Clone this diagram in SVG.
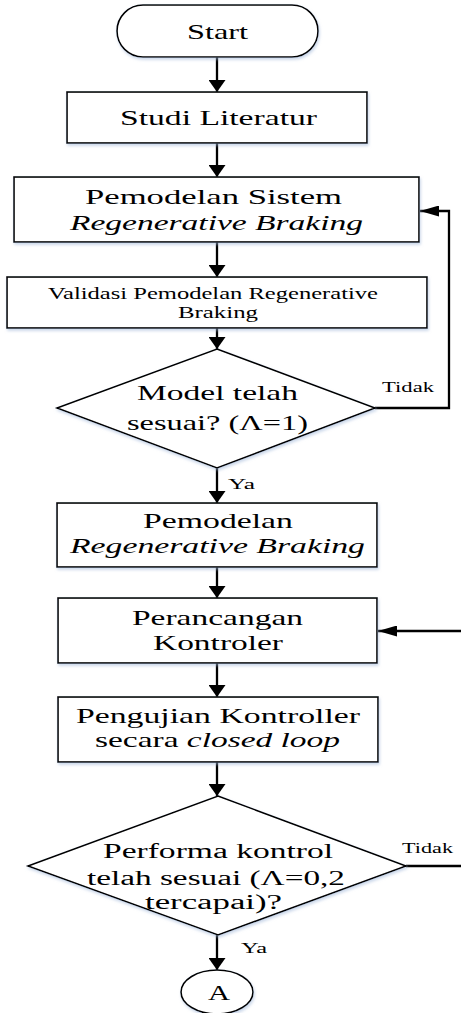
<svg xmlns="http://www.w3.org/2000/svg" width="461" height="1013" viewBox="0 0 461 1013">
<style>
text{font-family:"Liberation Serif","Times New Roman",serif;fill:#000;}
.t{font-size:22px;}
.d{font-size:20px;}
.s{font-size:17px;}
.l{font-size:15px;}
.i{font-style:italic;}
.shape{fill:#fff;stroke:#000;stroke-width:1.6;filter:url(#sh);}
.con{fill:none;stroke:#000;stroke-width:2.3;}
</style>
<defs>
<filter id="sh" x="-10%" y="-10%" width="120%" height="130%">
<feDropShadow dx="1" dy="2" stdDeviation="1.5" flood-color="#9fb6d8" flood-opacity="0.55"/>
</filter>
<marker id="aV" viewBox="0 0 12 17" refX="12" refY="8.5" markerWidth="12" markerHeight="17" markerUnits="userSpaceOnUse" orient="auto">
<path d="M0,0 L12,8.5 L0,17 z" fill="#000"/>
</marker>
<marker id="aH" viewBox="0 0 19 11" refX="19" refY="5.5" markerWidth="19" markerHeight="11" markerUnits="userSpaceOnUse" orient="auto">
<path d="M0,0 L19,5.5 L0,11 z" fill="#000"/>
</marker>
</defs>

<g id="connectors">
<path class="con" d="M217,57 V92" marker-end="url(#aV)"/>
<path class="con" d="M217,143 V177" marker-end="url(#aV)"/>
<path class="con" d="M217,242 V277" marker-end="url(#aV)"/>
<path class="con" d="M217,328 V349" marker-end="url(#aV)"/>
<path class="con" d="M217,468 V503" marker-end="url(#aV)"/>
<path class="con" d="M375,408 H449 V211 H420" marker-end="url(#aH)"/>
<path class="con" d="M217,567 V598" marker-end="url(#aV)"/>
<path class="con" d="M217,663 V697" marker-end="url(#aV)"/>
<path class="con" d="M217,762 V796" marker-end="url(#aV)"/>
<path class="con" d="M406,866 H461"/>
<path class="con" d="M461,631 H378" marker-end="url(#aH)"/>
<path class="con" d="M217,935 V970" marker-end="url(#aV)"/>
<text class="l" x="382" y="392" textLength="52" lengthAdjust="spacingAndGlyphs">Tidak</text>
<text class="l" x="228" y="489" textLength="27" lengthAdjust="spacingAndGlyphs">Ya</text>
<text class="l" x="402" y="853" textLength="51" lengthAdjust="spacingAndGlyphs">Tidak</text>
<text class="l" x="241" y="953" textLength="26" lengthAdjust="spacingAndGlyphs">Ya</text>
</g>

<g id="start">
<rect class="shape" x="117" y="5" width="201" height="52" rx="26" ry="26"/>
<text class="t" x="187" y="39" textLength="61" lengthAdjust="spacingAndGlyphs">Start</text>
</g>

<g id="studi">
<rect class="shape" x="67" y="92" width="300" height="51"/>
<text class="t" x="120" y="125" textLength="197" lengthAdjust="spacingAndGlyphs">Studi Literatur</text>
</g>

<g id="pemodelan-sistem">
<rect class="shape" x="14" y="177" width="405" height="65"/>
<text class="t" x="85" y="204" textLength="257" lengthAdjust="spacingAndGlyphs">Pemodelan Sistem</text>
<text class="t i" x="70" y="230" textLength="293" lengthAdjust="spacingAndGlyphs">Regenerative Braking</text>
</g>

<g id="validasi">
<rect class="shape" x="7" y="277" width="420" height="51"/>
<text class="s" x="48" y="299" textLength="330" lengthAdjust="spacingAndGlyphs">Validasi Pemodelan Regenerative</text>
<text class="s" x="178" y="318" textLength="80" lengthAdjust="spacingAndGlyphs">Braking</text>
</g>

<g id="decision-model">
<polygon class="shape" points="217,349 375,408 217,468 57,408"/>
<text class="t" x="137" y="400" textLength="161" lengthAdjust="spacingAndGlyphs">Model telah</text>
<text class="t" x="127" y="430" textLength="181" lengthAdjust="spacingAndGlyphs">sesuai? (Λ=1)</text>
</g>

<g id="pemodelan">
<rect class="shape" x="57" y="503" width="320" height="64"/>
<text class="t" x="143" y="528" textLength="150" lengthAdjust="spacingAndGlyphs">Pemodelan</text>
<text class="t i" x="70" y="553" textLength="295" lengthAdjust="spacingAndGlyphs">Regenerative Braking</text>
</g>

<g id="perancangan">
<rect class="shape" x="58" y="598" width="319" height="65"/>
<text class="t" x="132" y="625" textLength="171" lengthAdjust="spacingAndGlyphs">Perancangan</text>
<text class="t" x="153" y="650" textLength="130" lengthAdjust="spacingAndGlyphs">Kontroler</text>
</g>

<g id="pengujian">
<rect class="shape" x="58" y="697" width="320" height="65"/>
<text class="t" x="76" y="723" textLength="284" lengthAdjust="spacingAndGlyphs">Pengujian Kontroller</text>
<text class="t" x="95" y="747" textLength="245" lengthAdjust="spacingAndGlyphs">secara <tspan class="i">closed loop</tspan></text>
</g>

<g id="decision-performa">
<polygon class="shape" points="218,796 406,866 218,935 28,866"/>
<text class="d" x="103" y="858" textLength="230" lengthAdjust="spacingAndGlyphs">Performa kontrol</text>
<text class="d" x="87" y="885" textLength="258" lengthAdjust="spacingAndGlyphs">telah sesuai (Λ=0,2</text>
<text class="d" x="145" y="909" textLength="137" lengthAdjust="spacingAndGlyphs">tercapai)?</text>
</g>

<g id="connector-a">
<ellipse class="shape" cx="217" cy="992" rx="36" ry="22"/>
<text class="t" x="208" y="1000" textLength="22" lengthAdjust="spacingAndGlyphs">A</text>
</g>
</svg>
